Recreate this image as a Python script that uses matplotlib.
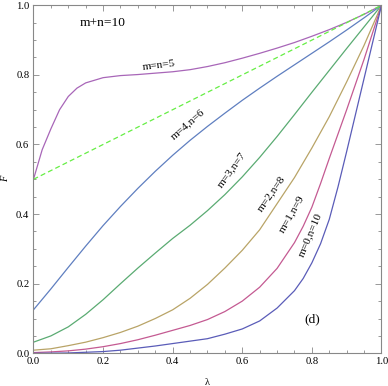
import matplotlib
matplotlib.use("Agg")
import matplotlib.pyplot as plt
from matplotlib.ticker import MultipleLocator

# lambda grid the curves were read on
lam = [0.0, 0.05, 0.1, 0.15, 0.2, 0.25, 0.3, 0.35, 0.4, 0.45, 0.5,
       0.55, 0.6, 0.65, 0.7, 0.75, 0.8, 0.85, 0.9, 0.95, 1.0]

# m=n=5 rises steeply near 0, so it gets a few extra points there
lam_55 = [0.0, 0.025, 0.05, 0.075, 0.1, 0.125, 0.15, 0.2, 0.25, 0.3, 0.35, 0.4, 0.45, 0.5,
          0.55, 0.6, 0.65, 0.7, 0.75, 0.8, 0.85, 0.9, 0.95, 1.0]
f_55 = [0.5, 0.585, 0.645, 0.70, 0.738, 0.762, 0.777, 0.792, 0.798, 0.801, 0.805, 0.809, 0.815, 0.824,
        0.835, 0.848, 0.862, 0.877, 0.893, 0.911, 0.93, 0.951, 0.974, 1.0]

f_46 = [0.125, 0.185, 0.247, 0.308, 0.367, 0.422, 0.474, 0.523, 0.569, 0.612, 0.652,
        0.69, 0.727, 0.762, 0.796, 0.829, 0.862, 0.895, 0.929, 0.964, 1.0]
f_37 = [0.032, 0.05, 0.076, 0.112, 0.154, 0.2, 0.245, 0.288, 0.33, 0.368, 0.41,
        0.456, 0.507, 0.563, 0.623, 0.686, 0.75, 0.813, 0.876, 0.938, 1.0]
f_28 = [0.009, 0.013, 0.022, 0.032, 0.045, 0.06, 0.078, 0.10, 0.125, 0.158, 0.198,
        0.245, 0.296, 0.355, 0.43, 0.505, 0.59, 0.68, 0.78, 0.885, 1.0]

# the two steepest curves get extra points where they turn up
lam_hi = [0.0, 0.05, 0.1, 0.15, 0.2, 0.25, 0.3, 0.35, 0.4, 0.45, 0.5,
          0.55, 0.6, 0.65, 0.7, 0.75, 0.775, 0.8, 0.825, 0.85, 0.875, 0.9, 0.95, 1.0]
f_19 = [0.002, 0.004, 0.007, 0.012, 0.019, 0.028, 0.039, 0.052, 0.066, 0.08, 0.097,
        0.12, 0.15, 0.19, 0.244, 0.318, 0.365, 0.42, 0.488, 0.56, 0.63, 0.70, 0.845, 1.0]
f_010 = [0.0, 0.0005, 0.001, 0.003, 0.005, 0.009, 0.015, 0.021, 0.028, 0.035, 0.042,
         0.055, 0.07, 0.093, 0.13, 0.18, 0.215, 0.26, 0.315, 0.385, 0.478, 0.58, 0.79, 1.0]

lam_ref = [0.0, 1.0]
f_ref = [0.5, 1.0]

curves = [
    (lam_55, f_55, "#a866b8"),
    (lam, f_46, "#5f7fc0"),
    (lam, f_37, "#5aab72"),
    (lam, f_28, "#b9a467"),
    (lam_hi, f_19, "#c45a92"),
    (lam_hi, f_010, "#5a5cb8"),
]

# label text, centre (lambda, F), rotation
labels = [
    ("m=n=5", 0.361, 0.828, 7),
    ("m=4,n=6", 0.443, 0.657, 41),
    ("m=3,n=7", 0.568, 0.528, 54),
    ("m=2,n=8", 0.683, 0.46, 55),
    ("m=1,n=9", 0.742, 0.40, 60),
    ("m=0,n=10", 0.794, 0.342, 67),
]

plt.rcParams["font.family"] = ["Liberation Serif", "DejaVu Serif"]

fig = plt.figure(figsize=(3.88, 3.86), dpi=100)
ax = fig.add_axes([0.0863, 0.0847, 0.8969, 0.9016])

for x, f, color in curves:
    ax.plot(x, f, color=color, lw=0.9)
ax.plot(lam_ref, f_ref, color="#66ee44", lw=0.9, ls=(0, (4, 2.5)))

for text, x, y, rot in labels:
    ax.text(x, y, text, fontsize=8.2, rotation=rot, ha="center", va="center",
            rotation_mode="anchor")

ax.text(0.2, 0.948, "m+n=10", fontsize=9.7, ha="center", va="center")
ax.text(0.80, 0.099, "(d)", fontsize=9.7, ha="center", va="center")

ax.set_xlim(0, 1)
ax.set_ylim(0, 1)
ax.xaxis.set_major_locator(MultipleLocator(0.2))
ax.yaxis.set_major_locator(MultipleLocator(0.2))
ax.xaxis.set_minor_locator(MultipleLocator(0.05))
ax.yaxis.set_minor_locator(MultipleLocator(0.05))
ax.xaxis.set_major_formatter(lambda v, p: f"{v:.1f}")
ax.yaxis.set_major_formatter(lambda v, p: f"{v:.1f}")
ax.tick_params(which="both", direction="in", top=True, right=True,
               color="#888888", labelsize=7.7, pad=3)
ax.tick_params(which="major", length=4.5, width=0.6)
ax.tick_params(which="minor", length=2.5, width=0.6)
for sp in ax.spines.values():
    sp.set_color("#888888")
    sp.set_linewidth(0.8)

ax.set_xlabel("λ", fontsize=7.5)
ax.set_ylabel("F", fontsize=7.5, style="italic")
ax.xaxis.set_label_coords(0.5, -0.07)
ax.yaxis.set_label_coords(-0.068, 0.5)

fig.savefig("out.png", dpi=100)
